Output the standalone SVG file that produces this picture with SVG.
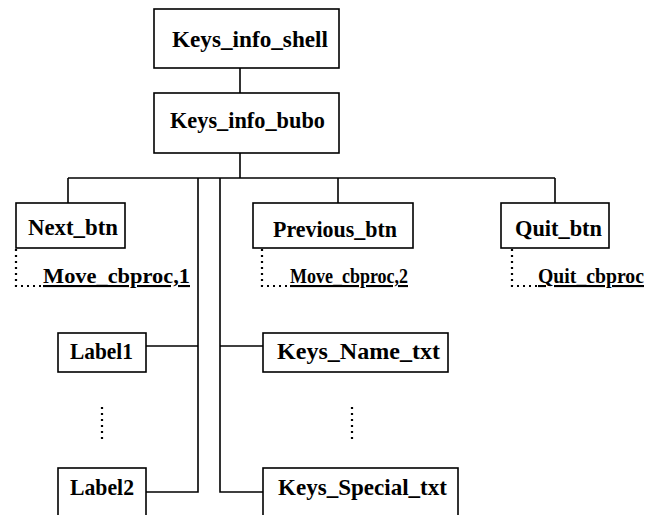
<svg xmlns="http://www.w3.org/2000/svg" width="657" height="515" viewBox="0 0 657 515">
  <style>
    .box { fill: #ffffff; stroke: #000000; stroke-width: 1.6; }
    .wire { fill: none; stroke: #000000; stroke-width: 1.6; }
    .dots { fill: none; stroke: #000000; stroke-width: 2.2; stroke-dasharray: 2 4; }
    .lbl { font-family: "Liberation Serif", "Times New Roman", serif; font-weight: bold; font-size: 23px; fill: #000000; }
    .cb { font-family: "Liberation Serif", "Times New Roman", serif; font-weight: bold; font-size: 21px; fill: #000000; text-decoration: underline; }
  </style>
  <rect width="657" height="515" fill="#ffffff"/>

  <!-- connectors -->
  <g id="connectors">
    <line class="wire" x1="240" y1="68" x2="240" y2="93"/>
    <line class="wire" x1="240" y1="153" x2="240" y2="178"/>
    <!-- bus -->
    <line class="wire" x1="68" y1="178" x2="555" y2="178"/>
    <line class="wire" x1="68" y1="178" x2="68" y2="203"/>
    <line class="wire" x1="338" y1="178" x2="338" y2="203"/>
    <line class="wire" x1="555" y1="178" x2="555" y2="203"/>
    <!-- left trunk to labels -->
    <polyline class="wire" points="198,178 198,492 146,492"/>
    <line class="wire" x1="146" y1="346" x2="198" y2="346"/>
    <!-- right trunk to text fields -->
    <polyline class="wire" points="220,178 220,492 263,492"/>
    <line class="wire" x1="220" y1="346" x2="263" y2="346"/>
    <!-- callback links -->
    <polyline class="dots" points="16,249 16,286 43,286"/>
    <polyline class="dots" points="262,249 262,286 290,286"/>
    <polyline class="dots" points="512,249 512,286 538,286"/>
    <!-- ellipses between siblings -->
    <line class="dots" x1="102" y1="407" x2="102" y2="440"/>
    <line class="dots" x1="352" y1="407" x2="352" y2="440"/>
  </g>

  <g id="keys_info_shell">
    <rect class="box" x="154" y="9" width="185" height="59"/>
    <text class="lbl" x="172" y="47" textLength="156" lengthAdjust="spacingAndGlyphs">Keys_info_shell</text>
  </g>

  <g id="keys_info_bubo">
    <rect class="box" x="154" y="93" width="185" height="60"/>
    <text class="lbl" x="170" y="128" textLength="155" lengthAdjust="spacingAndGlyphs">Keys_info_bubo</text>
  </g>

  <g id="next_btn">
    <rect class="box" x="16" y="203" width="109" height="45"/>
    <text class="lbl" x="28" y="235" textLength="90" lengthAdjust="spacingAndGlyphs">Next_btn</text>
  </g>

  <g id="previous_btn">
    <rect class="box" x="253" y="203" width="160" height="45"/>
    <text class="lbl" x="273" y="237" textLength="124" lengthAdjust="spacingAndGlyphs">Previous_btn</text>
  </g>

  <g id="quit_btn">
    <rect class="box" x="501" y="203" width="108" height="45"/>
    <text class="lbl" x="515" y="236" textLength="87" lengthAdjust="spacingAndGlyphs">Quit_btn</text>
  </g>

  <g id="move_cbproc_1">
    <text class="cb" x="43" y="283" textLength="147" lengthAdjust="spacingAndGlyphs">Move_cbproc,1</text>
  </g>

  <g id="move_cbproc_2">
    <text class="cb" x="290" y="283" textLength="118" lengthAdjust="spacingAndGlyphs">Move_cbproc,2</text>
  </g>

  <g id="quit_cbproc">
    <text class="cb" x="538" y="283" textLength="106" lengthAdjust="spacingAndGlyphs">Quit_cbproc</text>
  </g>

  <g id="label1">
    <rect class="box" x="58" y="333" width="88" height="39"/>
    <text class="lbl" x="70" y="359" textLength="63" lengthAdjust="spacingAndGlyphs">Label1</text>
  </g>

  <g id="label2">
    <rect class="box" x="58" y="468" width="88" height="60"/>
    <text class="lbl" x="70" y="495" textLength="64" lengthAdjust="spacingAndGlyphs">Label2</text>
  </g>

  <g id="keys_name_txt">
    <rect class="box" x="263" y="333" width="185" height="39"/>
    <text class="lbl" x="277" y="359" textLength="163" lengthAdjust="spacingAndGlyphs">Keys_Name_txt</text>
  </g>

  <g id="keys_special_txt">
    <rect class="box" x="263" y="468" width="195" height="60"/>
    <text class="lbl" x="278" y="495" textLength="169" lengthAdjust="spacingAndGlyphs">Keys_Special_txt</text>
  </g>
</svg>
